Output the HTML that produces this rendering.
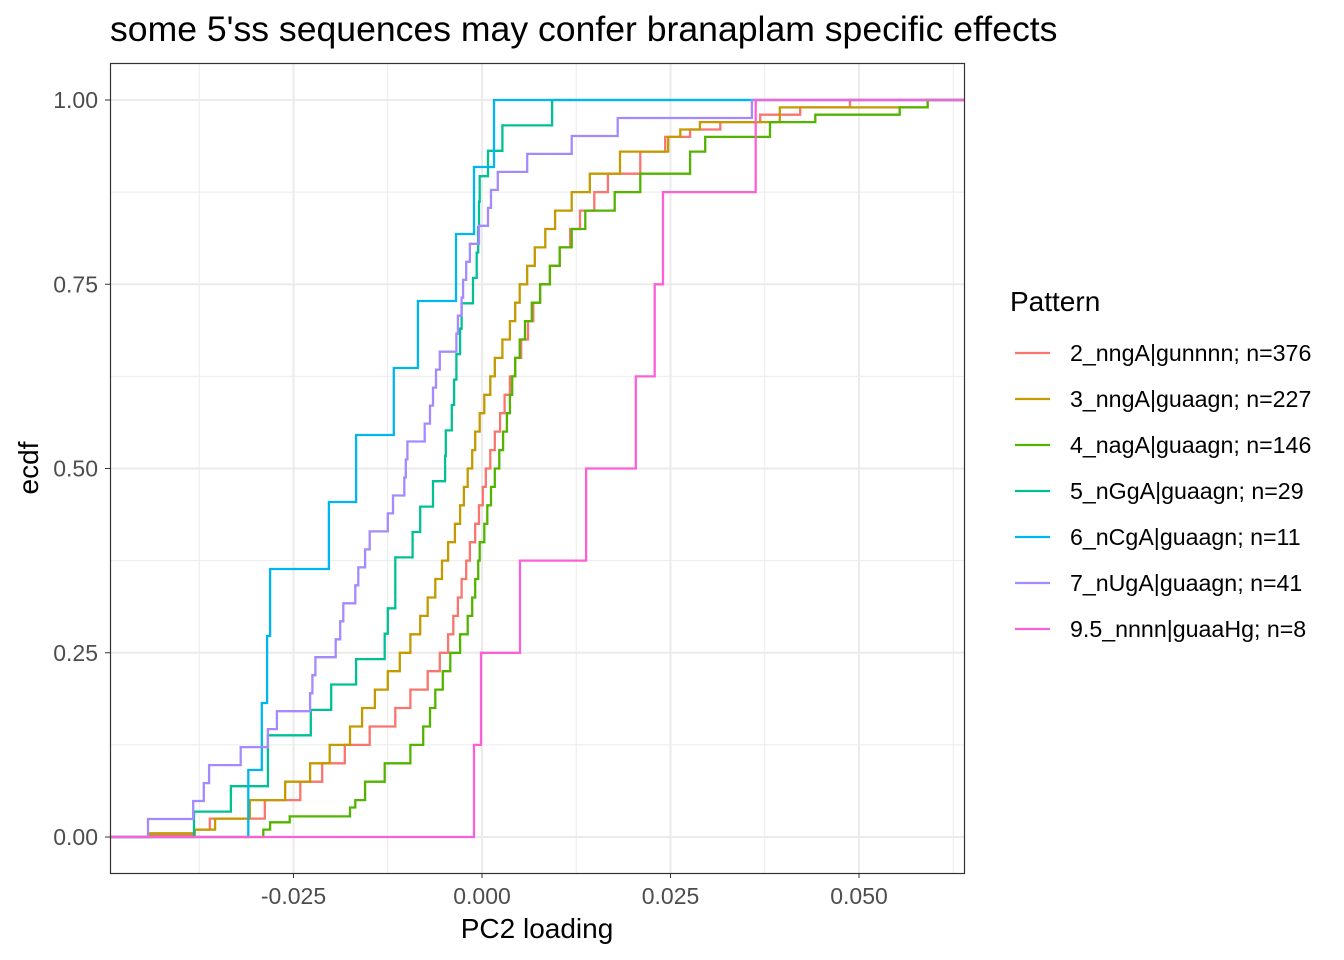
<!DOCTYPE html>
<html><head><meta charset="utf-8">
<style>
body{margin:0;background:#fff;}
svg{display:block;font-family:"Liberation Sans",Arial,sans-serif;}
</style></head>
<body>
<svg id="chart" width="1344" height="960">
<text x="110" y="41" font-size="35.6" fill="#000">some 5'ss sequences may confer branaplam specific effects</text>
<g id="grid"></g>
<g id="series"></g>
<rect x="110.5" y="63.5" width="854" height="810" fill="none" stroke="#333" stroke-width="1.2"/>
<g id="axes"></g>
<text x="537" y="938" font-size="28" text-anchor="middle">PC2 loading</text>
<text transform="translate(38,468) rotate(-90)" font-size="28" text-anchor="middle">ecdf</text>
<text x="1010" y="311" font-size="28">Pattern</text>
<g id="legend"></g>
</svg>
<script>
const seriesNames=["2_nngA|gunnnn; n=376","3_nngA|guaagn; n=227","4_nagA|guaagn; n=146","5_nGgA|guaagn; n=29","6_nCgA|guaagn; n=11","7_nUgA|guaagn; n=41","9.5_nnnn|guaaHg; n=8"];
const seriesColors=["#F8766D","#C49A00","#53B400","#00C094","#00B6EB","#A58AFF","#FB61D7"];
const xTicks=[-0.025,0,0.025,0.05];
const xTickLabels=["-0.025","0.000","0.025","0.050"];
const xMinor=[-0.0375,-0.0125,0.0125,0.0375,0.0625];
const yTicks=[0,0.25,0.5,0.75,1];
const yTickLabels=["0.00","0.25","0.50","0.75","1.00"];
const yMinor=[0.125,0.375,0.625,0.875];
// large series: quantile knots (value, cumulative prob)
const s2x=[-0.0440,-0.0381,-0.0361,-0.0288,-0.0241,-0.0212,-0.0182,-0.0149,-0.0115,-0.0095,-0.0072,-0.0056,-0.0038,-0.0027,-0.0016,-0.0004,0.0005,0.0017,0.0030,0.0044,0.0061,0.0077,0.0103,0.0130,0.0167,0.0210,0.0243,0.0316,0.0422,0.0488];
const s2y=[.003,.01,.025,.05,.075,.1,.125,.15,.175,.2,.225,.25,.3,.35,.4,.45,.5,.55,.6,.65,.7,.75,.8,.85,.9,.93,.95,.97,.99,1];
const s2xb=[-0.0045,-0.0032,-0.0021,-0.0009,0.0001,0.0011,0.0024,0.0037,0.0052,0.0068,0.0090,0.0117,0.0149,0.0276,0.0369];
const s2yb=[.275,.325,.375,.425,.475,.525,.575,.625,.675,.725,.775,.825,.875,.96,.98];
const s3x=[-0.0440,-0.0381,-0.0354,-0.0308,-0.0261,-0.0228,-0.0202,-0.0175,-0.0142,-0.0109,-0.0082,-0.0062,-0.0045,-0.0029,-0.0019,-0.0009,0.0003,0.0017,0.0037,0.0050,0.0070,0.0097,0.0143,0.0183,0.0247,0.0289,0.0395,0.0591];
const s3y=[.005,.01,.025,.05,.075,.1,.125,.15,.2,.25,.3,.35,.4,.45,.5,.55,.6,.65,.7,.75,.8,.85,.9,.93,.95,.97,.99,1];
const s3xb=[-0.0159,-0.0125,-0.0095,-0.0072,-0.0053,-0.0036,-0.0024,-0.0013,-0.0003,0.0011,0.0027,0.0044,0.0060,0.0084,0.0119,0.0263];
const s3yb=[.175,.225,.275,.325,.375,.425,.475,.525,.575,.625,.675,.725,.775,.825,.875,.96];
const s4x=[-0.0290,-0.0281,-0.0255,-0.0175,-0.0168,-0.0155,-0.0129,-0.0095,-0.0078,-0.0062,-0.0042,-0.0019,-0.0009,-0.0003,0.0007,0.0017,0.0028,0.0037,0.0044,0.0057,0.0077,0.0103,0.0137,0.0176,0.0210,0.0276,0.0296,0.0382,0.0442,0.0554,0.0591];
const s4y=[.01,.02,.028,.04,.05,.075,.1,.125,.15,.2,.25,.3,.35,.4,.45,.5,.55,.6,.65,.7,.75,.8,.85,.875,.9,.93,.95,.97,.98,.99,1];
const s4xb=[-0.0069,-0.0052,-0.0029,-0.0013,-0.0005,0.0003,0.0012,0.0023,0.0033,0.0040,0.0050,0.0066,0.0090,0.0119];
const s4yb=[.175,.225,.275,.325,.375,.425,.475,.525,.575,.625,.675,.725,.775,.825];
// small series: raw sample values
const s5x=[-0.0382,-0.0333,-0.0284,-0.0284,-0.0227,-0.0200,-0.0167,-0.0129,-0.0125,-0.0115,-0.0115,-0.0092,-0.0082,-0.0065,-0.0049,-0.0048,-0.0040,-0.0037,-0.0034,-0.0029,-0.0027,-0.0012,-0.0007,-0.0005,-0.0004,-0.0003,0.0008,0.0027,0.0093];
const s6x=[-0.0310,-0.0292,-0.0285,-0.0281,-0.0203,-0.0167,-0.0117,-0.0085,-0.00345,-0.00106,0.00159];
const s7x=[-0.0443,-0.0383,-0.0369,-0.0362,-0.0320,-0.0284,-0.0272,-0.0228,-0.0225,-0.0221,-0.0194,-0.0188,-0.0184,-0.0168,-0.0164,-0.0155,-0.0149,-0.0125,-0.0118,-0.0103,-0.0101,-0.0099,-0.0076,-0.0069,-0.0065,-0.0061,-0.0056,-0.0034,-0.0032,-0.0027,-0.0025,-0.0021,-0.0016,-0.0004,0.0008,0.0012,0.0021,0.0060,0.0119,0.0180,0.0358];
const s8x=[-0.00106,-0.00013,0.00504,0.0138,0.0204,0.0229,0.0240,0.0363];

const NS="http://www.w3.org/2000/svg";
const L=110,R=964,T=63,B=873;
const X=v=>482+v*7540;
const Y=v=>837-v*737;
function ecdfY(xs){return xs.map((_,i)=>(i+1)/xs.length);}
function merge(xa,ya,xb,yb){const p=xa.map((x,i)=>[x,ya[i]]).concat(xb.map((x,i)=>[x,yb[i]]));p.sort((a,b)=>a[1]-b[1]);return [p.map(q=>q[0]),p.map(q=>q[1])];}
const all=[merge(s2x,s2y,s2xb,s2yb),merge(s3x,s3y,s3xb,s3yb),merge(s4x,s4y,s4xb,s4yb),[s5x,ecdfY(s5x)],[s6x,ecdfY(s6x)],[s7x,ecdfY(s7x)],[s8x,ecdfY(s8x)]];
function mk(tag,attrs,parent){const e=document.createElementNS(NS,tag);for(const k in attrs)e.setAttribute(k,attrs[k]);parent.appendChild(e);return e;}
const grid=document.getElementById('grid'),axes=document.getElementById('axes'),ser=document.getElementById('series'),leg=document.getElementById('legend');
xMinor.forEach(v=>{const l=mk('line',{x1:X(v),x2:X(v),y1:T,y2:B,stroke:'#ebebeb','stroke-width':1},grid);

});
yMinor.forEach(v=>{const l=mk('line',{x1:L,x2:R,y1:Y(v),y2:Y(v),stroke:'#ebebeb','stroke-width':1},grid);

});
xTicks.forEach((v,i)=>{const l=mk('line',{x1:X(v),x2:X(v),y1:T,y2:B,stroke:'#ebebeb','stroke-width':2},grid);


const t=mk('line',{x1:X(v),x2:X(v),y1:B,y2:B+5,stroke:'#333','stroke-width':1},axes);


const tx=mk('text',{x:X(v),y:B+31,'font-size':23,fill:'#4d4d4d','text-anchor':'middle'},axes);tx.textContent=xTickLabels[i];

});
yTicks.forEach((v,i)=>{const l=mk('line',{x1:L,x2:R,y1:Y(v),y2:Y(v),stroke:'#ebebeb','stroke-width':2},grid);


const t=mk('line',{x1:L-5,x2:L,y1:Y(v),y2:Y(v),stroke:'#333','stroke-width':1},axes);


const tx=mk('text',{x:L-12,y:Y(v)+8,'font-size':23,fill:'#4d4d4d','text-anchor':'end'},axes);tx.textContent=yTickLabels[i];

});
all.forEach((s,k)=>{const xs=s[0],ys=s[1];let d='M'+L+','+Y(0);
for(let i=0;i<xs.length;i++){d+=' H'+X(xs[i]).toFixed(1)+' V'+Y(ys[i]).toFixed(1);}
d+=' H'+R;
const p=mk('path',{d:d,fill:'none',stroke:seriesColors[k],'stroke-width':2.3},ser);


const yy=353+k*46;
const g=mk('g',{},leg);


mk('line',{x1:1015,x2:1050,y1:yy,y2:yy,stroke:seriesColors[k],'stroke-width':2.3},g);
const t=mk('text',{x:1070,y:yy+8,'font-size':23.2,fill:'#000'},g);t.textContent=seriesNames[k];});
</script>
</body></html>
